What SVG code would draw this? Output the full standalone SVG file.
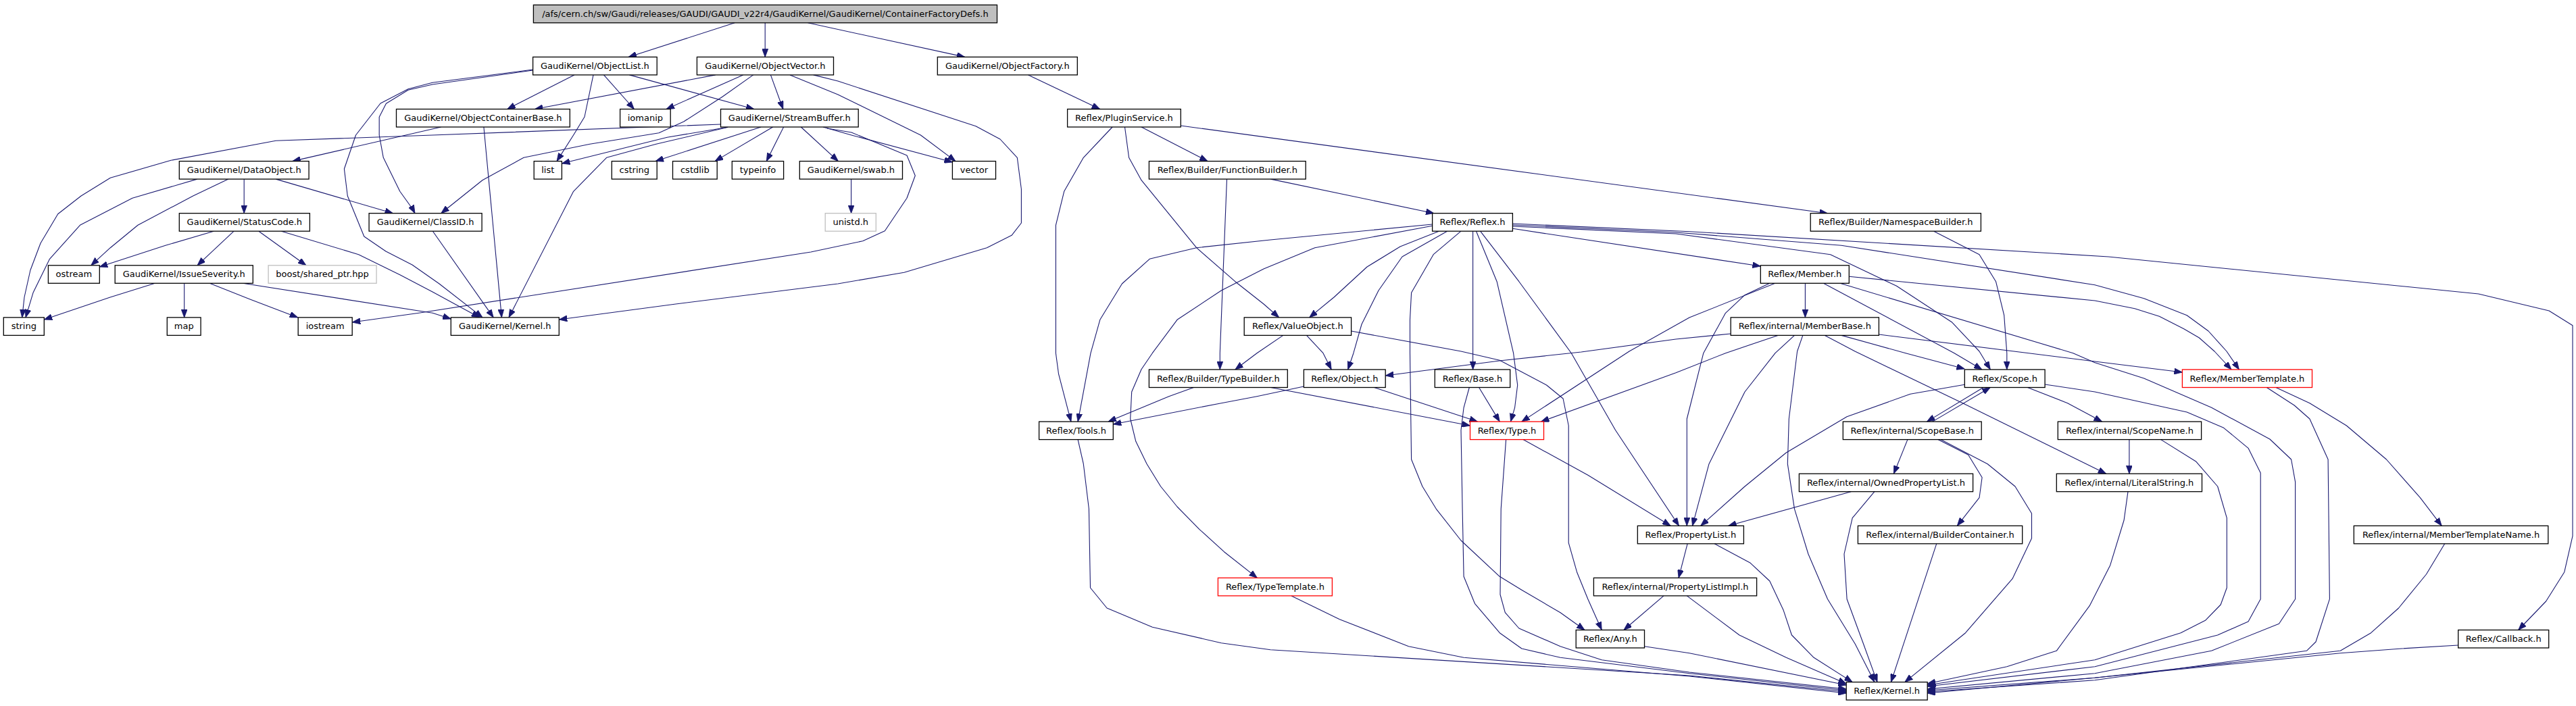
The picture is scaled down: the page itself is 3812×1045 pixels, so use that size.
<svg xmlns="http://www.w3.org/2000/svg" width="3812" height="1045" viewBox="0 0 3812 1045">
<defs>
<marker id="ah" viewBox="0 0 12 9" refX="12" refY="4.5" markerWidth="12" markerHeight="9" markerUnits="userSpaceOnUse" orient="auto">
<path d="M0,0 L12,4.5 L0,9 z" fill="#191970" stroke="#191970" stroke-width="0.8"/>
</marker>
<style>
.n rect{fill:#ffffff;stroke:#000000;stroke-width:1.3}
.n.root rect{fill:#bfbfbf}
.n.red rect{stroke:#ff0000}
.n.grey rect{stroke:#bfbfbf}
.n text{font-family:"DejaVu Sans","Liberation Sans",sans-serif;font-size:13px;fill:#000000;text-anchor:middle}
.e path{fill:none;stroke:#191970;stroke-width:1.1;stroke-linejoin:round;marker-end:url(#ah)}
</style>
</defs>
<rect x="0" y="0" width="3812" height="1045" fill="#ffffff"/>
<g id="connectors" class="e">
<path d="M1087.3,33.8 L930,84.4"/>
<path d="M1132.2,33.8 L1132.2,84.4"/>
<path d="M1195.5,33.8 L1427.8,84.4"/>
<path d="M849.8,110.9 L750.6,161.5"/>
<path d="M878,110.9 L865,173 L848.6,200 L824,238.6"/>
<path d="M893.5,110.9 L938.4,161.5"/>
<path d="M931.4,110.9 L1115.9,161.5"/>
<path d="M788.6,104 L640,125 L604,133.3 L571.4,153.3 L561.2,173.3 L561.2,200 L567.3,233.3 L591.8,283.3 L611,310 L614,315.7"/>
<path d="M788.6,103 L640,122.3 L604,131.7 L563,153 L526.5,200 L509.4,250 L514.3,290 L538.8,350 L571,372 L610,392 L650,420 L714,469.9"/>
<path d="M1058.8,110.9 L791.4,161.5"/>
<path d="M1099.6,110.9 L986,161.5"/>
<path d="M1114.7,110.9 L1069,143.3 L1011.8,180 L975,196.7 L873,213.3 L775,233.3 L713.9,266.7 L652.7,315.7"/>
<path d="M1140.4,110.9 L1158.8,161.5"/>
<path d="M1169,110.9 L1240,140 L1362.4,200 L1414,238.6"/>
<path d="M1203.7,110.9 L1240,120 L1444,186.7 L1480,206 L1505.3,233.3 L1511.4,280 L1511.4,330 L1497.1,348.3 L1460.4,366.7 L1338,403.3 L1240,420 L1000,450 L827.3,473"/>
<path d="M652.7,188 L432.7,238.6"/>
<path d="M715.9,188 L742.4,469.9"/>
<path d="M1066.5,184 L640,200 L408.2,208.3 L253.1,237.3 L163.3,263.3 L120,290 L85.7,316.7 L60,360 L44.9,400 L36,440 L32.7,469.9"/>
<path d="M1077.1,188.3 L971,213.3 L897.6,233.3 L848.6,283.3 L753,469.9"/>
<path d="M1077.1,188.3 L987.3,203.3 L831.4,242"/>
<path d="M1126.1,188 L970,238.6"/>
<path d="M1143.7,188 L1058,238.6"/>
<path d="M1159.6,188 L1134.3,238.6"/>
<path d="M1185.3,188 L1240.4,238.6"/>
<path d="M1218,188 L1260,200 L1409.4,240"/>
<path d="M1224,190 L1260,196 L1342,230 L1354.3,260 L1342,293.3 L1309.4,341.7 L1276.7,356.7 L1200,373 L620,463.3 L521.2,477"/>
<path d="M1259.6,265.1 L1259.6,315.7"/>
<path d="M291.8,265.1 L195.9,293.3 L118.4,333.3 L73.5,383.3 L49,433.3 L38,469.9"/>
<path d="M338,265.1 L285.7,290 L204,333.3 L163.3,366.7 L134.7,392.8"/>
<path d="M361.2,265.1 L361.2,315.7"/>
<path d="M408.2,265.1 L581.6,315.7"/>
<path d="M316.3,342.2 L244.9,363.3 L147.3,395"/>
<path d="M346.1,342.2 L292,392.8"/>
<path d="M382.9,342.2 L453,392.8"/>
<path d="M416.3,342.2 L530.6,376.7 L591.8,406.7 L640,432 L709.8,469.9"/>
<path d="M640.4,342.2 L730.2,469.9"/>
<path d="M229.4,419.3 L163,440 L65.3,473"/>
<path d="M272.7,419.3 L272.7,469.9"/>
<path d="M310.2,419.3 L370,443 L440.8,469.9"/>
<path d="M359.2,419.3 L640,463.3 L667.3,472"/>
<path d="M1521.6,110.9 L1627.8,161.5"/>
<path d="M1646.1,188 L1603.3,233.3 L1574.7,283.3 L1562.4,333.3 L1562.4,522.7 L1566.5,553.3 L1584.9,624.1"/>
<path d="M1664.5,188 L1670.6,233.3 L1689,266.7 L1729.8,316.7 L1770.6,366.7 L1827.8,416.7 L1870,450 L1892.7,469.9"/>
<path d="M1689,188 L1787,238.6"/>
<path d="M1747.3,186 L2704.5,315.7"/>
<path d="M1880.4,265.1 L2122,315.7"/>
<path d="M1815.5,265.1 L1805.3,522.7 L1805.3,547"/>
<path d="M2119.6,332 L1880,355 L1770.6,366.7 L1701.2,383.3 L1660.4,420 L1627.8,473.3 L1614,522.7 L1595.1,624.1"/>
<path d="M2121,334 L1945.7,366.7 L1870,398 L1807.3,430 L1742,473.3 L1705.3,522.7 L1689,546.7 L1674.7,580 L1672.7,620 L1680.8,653.3 L1697.1,686.7 L1717.6,720 L1742,750 L1774.7,783.3 L1811.4,816.7 L1860.4,855.4"/>
<path d="M2129.4,342.2 L2072,365 L2023,395 L1974,440 L1937.6,469.9"/>
<path d="M2141.6,342.2 L2075,380 L2040,430 L2015,480 L2002.9,522.7 L1994.7,547"/>
<path d="M2162,342.2 L2121.2,376.7 L2088.6,433.3 L2086.5,473.3 L2086.5,522.7 L2088.6,680 L2104.9,720 L2125.3,753.3 L2162,800 L2219.2,853.3 L2251.8,873.3 L2309,906.7 L2345,932.5"/>
<path d="M2179.6,342.2 L2179.6,547"/>
<path d="M2184.5,342.2 L2215.1,416.7 L2239.6,522.7 L2245.7,570 L2241.6,603.3 L2235.5,624.1"/>
<path d="M2190.6,342.2 L2247.8,416.7 L2325.3,522.7 L2390.6,636.7 L2484.5,778.3"/>
<path d="M2238.4,331 L2500,342.7 L3120,380 L3667.7,435 L3772.1,460 L3807,481.7 L3807,793.3 L3794.8,846.7 L3767.6,890 L3726.7,932.5"/>
<path d="M2238.4,333 L2480,344 L2724.9,363.3 L3100,421.7 L3172.7,441.7 L3236.2,466.7 L3268,490 L3295,520 L3313.4,547"/>
<path d="M2238.4,335 L2480,346 L2708.6,376.7 L2806.5,423.3 L2888.2,476.7 L2929,520 L2945.3,547"/>
<path d="M2238.4,338.3 L2605.3,394"/>
<path d="M2861.6,342.2 L2929,376.7 L2953.5,416.7 L2965.7,466.7 L2969.8,522.7 L2969.8,547"/>
<path d="M2671.4,419.3 L2671.4,469.9"/>
<path d="M2618.8,419.3 L2582,436.7 L2553.5,463.3 L2520.8,522.7 L2496.3,620 L2496.3,778.3"/>
<path d="M2626.9,419.3 L2500,470 L2411,520 L2251.8,624.1"/>
<path d="M2698.4,419.3 L2892,522.7 L2933,547"/>
<path d="M2736.3,409.3 L3100,445 L3159,456.7 L3195.4,468.3 L3231.7,486.7 L3254.4,500 L3277,520 L3302,547"/>
<path d="M2722.9,419.3 L3067.8,522.7 L3100,536.7 L3172.7,560 L3272.6,603.3 L3358.9,650 L3390.6,680 L3396.6,713.3 L3396.6,886.7 L3372.5,923.3 L3272.6,963.3 L3100,996.7 L2852.2,1020"/>
<path d="M2561.2,494 L2480,502 L2340,521 L2219,534 L2050.2,556"/>
<path d="M2631,496.4 L2553.5,522.7 L2480,551.7 L2280.4,624.1"/>
<path d="M2655.5,496.4 L2627,522.7 L2582,580 L2529,686.7 L2504.5,778.3"/>
<path d="M2667.8,496.4 L2659.6,520 L2647.3,620 L2645.3,686.7 L2655.5,753.3 L2675.9,820 L2704.5,886.7 L2745.3,953.3 L2773.9,1009.6"/>
<path d="M2700.4,496.4 L2745,520 L2904.5,596.7 L3116.7,701.2"/>
<path d="M2724.9,496.4 L2820,522.7 L2907.3,546"/>
<path d="M2780.4,495 L3100,535 L3229.4,551"/>
<path d="M1933.5,496.4 L1958,522.7 L1970.2,547"/>
<path d="M1898.8,496.4 L1860,522.7 L1827.8,547"/>
<path d="M1999.6,490 L2162,520 L2219.2,533.3 L2288.6,570 L2313.1,590 L2321.2,630 L2321.2,803.3 L2333.5,846.7 L2349.8,886.7 L2370.2,932.5"/>
<path d="M1880.4,573.5 L2175.5,630"/>
<path d="M1766.5,573.5 L1729.8,586.7 L1640,624.1"/>
<path d="M2033.5,573.5 L2186.5,624.1"/>
<path d="M1929.4,572 L1860,586.7 L1807.3,596.7 L1647.3,628"/>
<path d="M2188.6,573.5 L2219.2,624.1"/>
<path d="M2174.3,573.5 L2166.1,603.3 L2162,636.7 L2164.1,753.3 L2166.1,853.3 L2182.4,893.3 L2219.2,936.7 L2251.8,960 L2309,973.3 L2500,996.7 L2732.2,1022"/>
<path d="M2228.6,650.6 L2221.2,753.3 L2220,880 L2227.3,906.7 L2247.8,930 L2309,956.7 L2370.2,976.7 L2500,995 L2732.2,1020"/>
<path d="M2253.9,650.6 L2349.8,703.3 L2472.2,778.3"/>
<path d="M1595.1,650.6 L1603.3,686.7 L1611.4,753.3 L1613.5,870 L1638,900 L1705.3,928.3 L1807.3,951.7 L1880,961.7 L2500,1000 L2732.2,1024"/>
<path d="M1911,881.9 L1982.4,916.7 L2084.5,956.7 L2166.1,973.3 L2500,1001 L2732.2,1026"/>
<path d="M2935.1,573.5 L2851.4,624.1"/>
<path d="M2859.6,624.1 L2945.3,573.5"/>
<path d="M3000.4,573.5 L3059.6,596.7 L3110.6,624.1"/>
<path d="M2907.3,569.3 L2826.9,583.3 L2733.1,616.7 L2643.3,670 L2582,720 L2516.7,778.3"/>
<path d="M3026.1,569 L3100,580 L3236.2,610 L3290.7,633.3 L3327,663.3 L3345.2,700 L3345.2,886.7 L3327,920 L3281.7,940 L3100,986.7 L2852.2,1016"/>
<path d="M2822.9,650.6 L2802.4,701.2"/>
<path d="M2867.8,650.6 L2912.7,673.3 L2933.1,706.7 L2929,736.7 L2896.3,778.3"/>
<path d="M2871.8,650.6 L2941.2,686.7 L2982,720 L3006.5,760 L3006.5,796.7 L2978,856.7 L2908.6,936.7 L2818.8,1009.6"/>
<path d="M3150.9,650.6 L3150.9,701.2"/>
<path d="M3197.6,650.6 L3249.9,683.3 L3281.7,720 L3295.3,766.7 L3295.3,870 L3286.2,895 L3263.5,918.3 L3227.2,936.7 L3100,976.7 L2852.2,1014"/>
<path d="M3149,727.7 L3143.1,770 L3122.7,836.7 L3092.2,896.7 L3043.3,963.3 L2969.8,986.7 L2852.2,1012"/>
<path d="M2739.2,727.7 L2557.6,778.3"/>
<path d="M2773.9,727.7 L2741.2,766.7 L2729,820 L2733.1,886.7 L2757.6,953.3 L2778,1009.6"/>
<path d="M2865.7,804.8 L2798.4,1009.6"/>
<path d="M2497.1,804.8 L2484.1,855.4"/>
<path d="M2537.1,804.8 L2590.2,833.3 L2618.8,860 L2639.2,903.3 L2651.4,940 L2684.1,973.3 L2741.2,1009.6"/>
<path d="M2496.3,881.9 L2573.9,940 L2643.3,973.3 L2732.2,1012"/>
<path d="M2462,881.9 L2402.9,932.5"/>
<path d="M2433.5,956.7 L2500,966.7 L2732.2,1014"/>
<path d="M3354.3,573.5 L3395.2,600 L3417.9,620 L3445.1,680 L3447.4,886.7 L3427,950 L3413.4,963.3 L3100,1006.7 L2852.2,1024"/>
<path d="M3367.9,573.5 L3417.9,596.7 L3472.4,630 L3531.4,680 L3581.4,736.7 L3613.2,778.3"/>
<path d="M3617.7,804.8 L3590.5,850 L3549.6,900 L3508.7,936.7 L3463.3,963.3 L3100,1003.3 L2852.2,1022"/>
<path d="M3637.7,955 L3554.1,960 L3463.3,966.7 L3100,1003.3 L2852.2,1026"/>
</g>
<g id="node-cfd" class="n root"><rect x="789.4" y="7.3" width="686.1" height="26.5"/><text x="1132.45" y="24.8">/afs/cern.ch/sw/Gaudi/releases/GAUDI/GAUDI_v22r4/GaudiKernel/GaudiKernel/ContainerFactoryDefs.h</text></g>
<g id="node-objectlist" class="n"><rect x="788.6" y="84.4" width="183.6" height="26.5"/><text x="880.4" y="101.9">GaudiKernel/ObjectList.h</text></g>
<g id="node-objectvector" class="n"><rect x="1031.4" y="84.4" width="202.1" height="26.5"/><text x="1132.45" y="101.9">GaudiKernel/ObjectVector.h</text></g>
<g id="node-objectfactory" class="n"><rect x="1387.3" y="84.4" width="207" height="26.5"/><text x="1490.8" y="101.9">GaudiKernel/ObjectFactory.h</text></g>
<g id="node-objectcontainerbase" class="n"><rect x="586.5" y="161.5" width="256.8" height="26.5"/><text x="714.9" y="179">GaudiKernel/ObjectContainerBase.h</text></g>
<g id="node-iomanip" class="n"><rect x="917.6" y="161.5" width="74.6" height="26.5"/><text x="954.9" y="179">iomanip</text></g>
<g id="node-streambuffer" class="n"><rect x="1066.5" y="161.5" width="203.7" height="26.5"/><text x="1168.35" y="179">GaudiKernel/StreamBuffer.h</text></g>
<g id="node-pluginservice" class="n"><rect x="1579.6" y="161.5" width="167.7" height="26.5"/><text x="1663.45" y="179">Reflex/PluginService.h</text></g>
<g id="node-dataobject" class="n"><rect x="265.3" y="238.6" width="191.8" height="26.5"/><text x="361.2" y="256.1">GaudiKernel/DataObject.h</text></g>
<g id="node-list" class="n"><rect x="790.2" y="238.6" width="41.2" height="26.5"/><text x="810.8" y="256.1">list</text></g>
<g id="node-cstring" class="n"><rect x="905.3" y="238.6" width="66.9" height="26.5"/><text x="938.75" y="256.1">cstring</text></g>
<g id="node-cstdlib" class="n"><rect x="995.5" y="238.6" width="65.7" height="26.5"/><text x="1028.35" y="256.1">cstdlib</text></g>
<g id="node-typeinfo" class="n"><rect x="1083.3" y="238.6" width="76.3" height="26.5"/><text x="1121.45" y="256.1">typeinfo</text></g>
<g id="node-swab" class="n"><rect x="1183.3" y="238.6" width="152.2" height="26.5"/><text x="1259.4" y="256.1">GaudiKernel/swab.h</text></g>
<g id="node-vector" class="n"><rect x="1409.4" y="238.6" width="64.1" height="26.5"/><text x="1441.45" y="256.1">vector</text></g>
<g id="node-functionbuilder" class="n"><rect x="1700.4" y="238.6" width="231.8" height="26.5"/><text x="1816.3" y="256.1">Reflex/Builder/FunctionBuilder.h</text></g>
<g id="node-statuscode" class="n"><rect x="265.3" y="315.7" width="193.1" height="26.5"/><text x="361.85" y="333.2">GaudiKernel/StatusCode.h</text></g>
<g id="node-classid" class="n"><rect x="546.1" y="315.7" width="167" height="26.5"/><text x="629.6" y="333.2">GaudiKernel/ClassID.h</text></g>
<g id="node-unistd" class="n grey"><rect x="1221.2" y="315.7" width="75.1" height="26.5"/><text x="1258.75" y="333.2">unistd.h</text></g>
<g id="node-reflex" class="n"><rect x="2119.6" y="315.7" width="118.8" height="26.5"/><text x="2179" y="333.2">Reflex/Reflex.h</text></g>
<g id="node-namespacebuilder" class="n"><rect x="2679.2" y="315.7" width="252.2" height="26.5"/><text x="2805.3" y="333.2">Reflex/Builder/NamespaceBuilder.h</text></g>
<g id="node-ostream" class="n"><rect x="71.4" y="392.8" width="75.9" height="26.5"/><text x="109.35" y="410.3">ostream</text></g>
<g id="node-issueseverity" class="n"><rect x="170.2" y="392.8" width="204.1" height="26.5"/><text x="272.25" y="410.3">GaudiKernel/IssueSeverity.h</text></g>
<g id="node-boost" class="n grey"><rect x="397.1" y="392.8" width="160" height="26.5"/><text x="477.1" y="410.3">boost/shared_ptr.hpp</text></g>
<g id="node-member" class="n"><rect x="2605.3" y="392.8" width="131" height="26.5"/><text x="2670.8" y="410.3">Reflex/Member.h</text></g>
<g id="node-string" class="n"><rect x="5.3" y="469.9" width="60" height="26.5"/><text x="35.3" y="487.4">string</text></g>
<g id="node-map" class="n"><rect x="247.3" y="469.9" width="49.8" height="26.5"/><text x="272.2" y="487.4">map</text></g>
<g id="node-iostream" class="n"><rect x="441.2" y="469.9" width="80" height="26.5"/><text x="481.2" y="487.4">iostream</text></g>
<g id="node-gkkernel" class="n"><rect x="667.3" y="469.9" width="160" height="26.5"/><text x="747.3" y="487.4">GaudiKernel/Kernel.h</text></g>
<g id="node-valueobject" class="n"><rect x="1841.2" y="469.9" width="158.4" height="26.5"/><text x="1920.4" y="487.4">Reflex/ValueObject.h</text></g>
<g id="node-memberbase" class="n"><rect x="2561.2" y="469.9" width="219.2" height="26.5"/><text x="2670.8" y="487.4">Reflex/internal/MemberBase.h</text></g>
<g id="node-typebuilder" class="n"><rect x="1700.4" y="547" width="204.9" height="26.5"/><text x="1802.85" y="564.5">Reflex/Builder/TypeBuilder.h</text></g>
<g id="node-object" class="n"><rect x="1929.4" y="547" width="120.8" height="26.5"/><text x="1989.8" y="564.5">Reflex/Object.h</text></g>
<g id="node-base" class="n"><rect x="2123.3" y="547" width="111.4" height="26.5"/><text x="2179" y="564.5">Reflex/Base.h</text></g>
<g id="node-scope" class="n"><rect x="2907.3" y="547" width="118.8" height="26.5"/><text x="2966.7" y="564.5">Reflex/Scope.h</text></g>
<g id="node-membertemplate" class="n red"><rect x="3229.4" y="547" width="192.1" height="26.5"/><text x="3325.45" y="564.5">Reflex/MemberTemplate.h</text></g>
<g id="node-tools" class="n"><rect x="1537.6" y="624.1" width="109.7" height="26.5"/><text x="1592.45" y="641.6">Reflex/Tools.h</text></g>
<g id="node-type" class="n red"><rect x="2175.5" y="624.1" width="109" height="26.5"/><text x="2230" y="641.6">Reflex/Type.h</text></g>
<g id="node-scopebase" class="n"><rect x="2727.3" y="624.1" width="204.9" height="26.5"/><text x="2829.75" y="641.6">Reflex/internal/ScopeBase.h</text></g>
<g id="node-scopename" class="n"><rect x="3045.3" y="624.1" width="212.3" height="26.5"/><text x="3151.45" y="641.6">Reflex/internal/ScopeName.h</text></g>
<g id="node-ownedpropertylist" class="n"><rect x="2662.4" y="701.2" width="257.2" height="26.5"/><text x="2791" y="718.7">Reflex/internal/OwnedPropertyList.h</text></g>
<g id="node-literalstring" class="n"><rect x="3043.3" y="701.2" width="215.2" height="26.5"/><text x="3150.9" y="718.7">Reflex/internal/LiteralString.h</text></g>
<g id="node-propertylist" class="n"><rect x="2423.3" y="778.3" width="157.1" height="26.5"/><text x="2501.85" y="795.8">Reflex/PropertyList.h</text></g>
<g id="node-buildercontainer" class="n"><rect x="2749.4" y="778.3" width="243.3" height="26.5"/><text x="2871.05" y="795.8">Reflex/internal/BuilderContainer.h</text></g>
<g id="node-membertemplatename" class="n"><rect x="3483.3" y="778.3" width="287.5" height="26.5"/><text x="3627.05" y="795.8">Reflex/internal/MemberTemplateName.h</text></g>
<g id="node-typetemplate" class="n red"><rect x="1802.4" y="855.4" width="169" height="26.5"/><text x="1886.9" y="872.9">Reflex/TypeTemplate.h</text></g>
<g id="node-propertylistimpl" class="n"><rect x="2358.4" y="855.4" width="241.2" height="26.5"/><text x="2479" y="872.9">Reflex/internal/PropertyListImpl.h</text></g>
<g id="node-any" class="n"><rect x="2332.2" y="932.5" width="101.3" height="26.5"/><text x="2382.85" y="950">Reflex/Any.h</text></g>
<g id="node-callback" class="n"><rect x="3637.7" y="932.5" width="134" height="26.5"/><text x="3704.7" y="950">Reflex/Callback.h</text></g>
<g id="node-reflexkernel" class="n"><rect x="2732.2" y="1009.6" width="120" height="26.5"/><text x="2792.2" y="1027.1">Reflex/Kernel.h</text></g>
</svg>
